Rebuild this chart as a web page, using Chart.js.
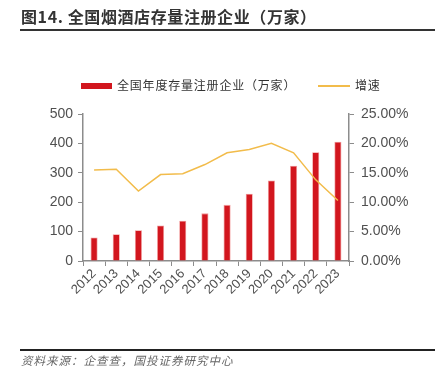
<!DOCTYPE html>
<html><head><meta charset="utf-8">
<script src="https://cdn.jsdelivr.net/npm/chart.js@4/dist/chart.umd.min.js"></script>
<style>
html,body{margin:0;padding:0;background:#fff;width:439px;height:382px;overflow:hidden;}
#wrap{position:relative;width:439px;height:382px;}
canvas{position:absolute;left:0;top:0;}
.title{position:absolute;left:21px;top:4px;font-family:"Noto Sans CJK SC";font-weight:bold;font-size:16px;letter-spacing:0.6px;color:#333;white-space:nowrap;}
.tline{position:absolute;left:20px;top:29px;width:415px;height:2px;background:#333;}
.fline{position:absolute;left:20px;top:349px;width:415px;height:1.5px;background:#222;}
.src{position:absolute;left:21px;top:352px;font-family:"Noto Sans CJK SC";font-style:italic;font-size:11.5px;letter-spacing:1px;color:#666;white-space:nowrap;}
.leg{position:absolute;top:76px;font-family:"Noto Sans CJK SC";font-size:12px;letter-spacing:0.8px;color:#333;white-space:nowrap;}
.box{position:absolute;}
</style></head>
<body><div id="wrap">
<canvas id="c" width="439" height="382"></canvas>
<div class="title">图14. 全国烟酒店存量注册企业（万家）</div>
<div class="tline"></div>
<div class="box" style="left:81px;top:83px;width:31px;height:6px;background:#D2161E;"></div>
<div class="leg" style="left:117px;">全国年度存量注册企业（万家）</div>
<div class="box" style="left:318px;top:85px;width:32px;height:1.5px;background:#F2BC4B;"></div>
<div class="leg" style="left:355px;">增速</div>
<div class="fline"></div>
<div class="src">资料来源：企查查，国投证券研究中心</div>
</div>
<script>
const categories = ['2012','2013','2014','2015','2016','2017','2018','2019','2020','2021','2022','2023'];
const enterprises = [80, 91, 105, 121, 137, 162, 191, 229, 274, 324, 370, 406];
const growth = [0.1546, 0.156, 0.119, 0.147, 0.1485, 0.164, 0.184, 0.1895, 0.200, 0.184, 0.138, 0.103];
const leftTicks = [0,100,200,300,400,500];
const rightTicks = [0,0.05,0.10,0.15,0.20,0.25];

const axisColor = '#8c8c8c';
const tickFont = {family:'"Liberation Sans", Arial, sans-serif', size:14};
new Chart(document.getElementById('c'), {
  data: {
    labels: categories,
    datasets: [
      {type:'line', label:'增速', data: growth, yAxisID:'y1', borderColor:'#F2BC4B', borderWidth:1.5, pointRadius:0, tension:0, order:0},
      {type:'bar', label:'全国年度存量注册企业（万家）', data: enterprises, yAxisID:'y', backgroundColor:'#D2161E', borderColor:'rgba(240,140,140,0.9)', borderWidth:{left:0.8,right:0.8,top:0.8,bottom:0}, categoryPercentage:1, barPercentage:0.32, order:1}
    ]
  },
  options: {
    responsive:false, animation:false,
    layout:{padding:{top:114, left:0, right:0, bottom:0}},
    plugins:{legend:{display:false}, tooltip:{enabled:false}},
    scales:{
      x:{
        offset:true,
        grid:{display:true, drawOnChartArea:false, drawTicks:true, tickLength:5, offset:true, color:axisColor},
        border:{color:axisColor, width:1.5},
        ticks:{color:'#505050', font:{family:'"Liberation Sans", Arial, sans-serif', size:13}, minRotation:45, maxRotation:45, autoSkip:false, padding:0},
        afterFit: s => { s.height = 121; }
      },
      y:{
        position:'left', min:0, max:500,
        afterBuildTicks: s => { s.ticks = leftTicks.map(v=>({value:v})); },
        grid:{display:true, drawOnChartArea:false, drawTicks:true, tickLength:5, color:axisColor},
        border:{color:axisColor, width:1.5},
        ticks:{color:'#505050', font:tickFont, padding:5},
        afterFit: s => { s.width = 83; }
      },
      y1:{
        position:'right', min:0, max:0.25,
        afterBuildTicks: s => { s.ticks = rightTicks.map(v=>({value:v})); },
        grid:{display:true, drawOnChartArea:false, drawTicks:true, tickLength:5, color:axisColor},
        border:{color:axisColor, width:1.5},
        ticks:{color:'#505050', font:tickFont, padding:7, callback: v => (v*100).toFixed(2)+'%'},
        afterFit: s => { s.width = 90; }
      }
    }
  }
});
</script>
</body></html>
